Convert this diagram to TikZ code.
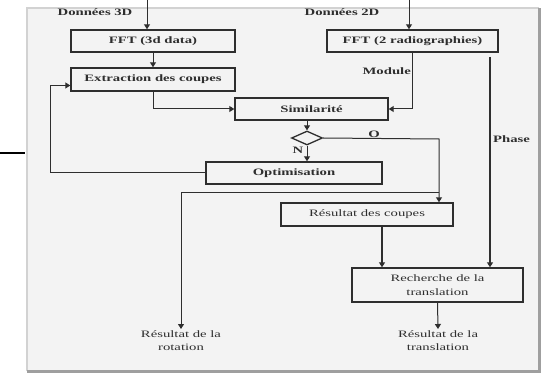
\documentclass[tikz,border=0pt]{standalone}
\usepackage{fontspec}
\setmainfont{Liberation Serif}[FakeStretch=1.5]
\usetikzlibrary{arrows.meta,shapes.geometric}
\definecolor{panel}{HTML}{F3F3F3}
\definecolor{ink}{HTML}{2E2E2E}
\tikzset{
  box/.style={draw=ink, line width=1.4pt, fill=panel, inner sep=1pt, align=center, text=ink, font=\fontsize{9.8}{14}\selectfont},
  bbox/.style={box, font=\fontsize{9.8}{14}\selectfont\bfseries},
  lbl/.style={text=ink, font=\fontsize{9.8}{14}\selectfont\bfseries, inner sep=0pt},
  rlbl/.style={text=ink, font=\fontsize{9.8}{13.5}\selectfont, inner sep=1pt, align=center},
  conn/.style={draw=ink, line width=1pt},
  arr/.style={conn, -{Triangle[length=5pt,width=6pt]}},
  tarr/.style={arr, line width=1.4pt}
}
\begin{document}
\begin{tikzpicture}[x=1pt,y=-1pt]
\useasboundingbox (0,0) rectangle (548,379);
% panel
\fill[white] (0,0) rectangle (548,379);
\fill[panel] (27,8) rectangle (539,371);
\draw[gray!35, line width=2pt] (27,371) -- (27,8) -- (539,8);
\draw[gray!75, line width=3pt] (27,371) -- (539,371) -- (539,8);
\draw[black, line width=1.4pt] (0,153) -- (25,153);
% boxes
\node[bbox, minimum width=164pt, minimum height=22pt] (fft3) at (153,41) {FFT (3d data)};
\node[bbox, minimum width=164pt, minimum height=23pt] (ext) at (153,79.5) {Extraction des coupes};
\node[bbox, minimum width=153pt, minimum height=22pt] (sim) at (311.5,109) {Similarité};
\node[bbox, minimum width=171pt, minimum height=22pt] (fft2) at (412.5,41) {FFT (2 radiographies)};
\node[draw=ink, line width=1.3pt, fill=panel, diamond, aspect=2.2, minimum width=31pt, minimum height=14pt, inner sep=0pt] (dia) at (307,138) {};
\node[bbox, minimum width=176pt, minimum height=22pt] (opt) at (294,173) {Optimisation};
\node[box, minimum width=172pt, minimum height=23pt] (rc) at (367,214.5) {Résultat des coupes};
\node[box, minimum width=171pt, minimum height=34pt] (rech) at (437.5,285) {Recherche de la\\translation};
% free texts
\node[lbl] (d3) at (95,12) {Données 3D};
\node[lbl] (d2) at (342,12) {Données 2D};
\node[rlbl, anchor=north] (rot) at (181,329) {Résultat de la\\rotation};
\node[rlbl, anchor=north] (tra) at (438,329) {Résultat de la\\translation};
% coordinates
\coordinate (in3) at (147,0);
\coordinate (in2) at (409,0);
\coordinate (ph) at (490,57);
\coordinate (fb) at (50,85.5);
\coordinate (oc) at (439,139);
\coordinate (jn) at (439,193);
% connectors
\draw[arr] (in3) -- (in3 |- fft3.north);
\draw[arr] (in2) -- (in2 |- fft2.north);
\draw[arr] (fft3.south) -- (ext.north);
\draw[arr] (ext.south) |- (sim.west);
\draw[arr] (fft2.south) |- (sim.east);
\node[lbl, anchor=east] (mod) at (411,71) {Module};
\draw[tarr] (ph) -- (ph |- rech.north);
\node[lbl, anchor=west] (pha) at (493,139) {Phase};
\draw[arr] (dia.north |- sim.south) -- (dia.north);
\draw[arr] (dia.south) -- (dia.south |- opt.north);
\node[lbl] (nn) at (298,150) {N};
\draw[arr] (dia.east) -- (oc) -- (oc |- rc.north);
\node[lbl] (oo) at (374,134) {O};
\draw[arr] (opt.west) -- (opt.west -| fb) -- (fb) -- (fb -| ext.west);
\draw[arr] (jn) -| (rot.north);
\draw[tarr] (rc.south -| 382,0) -- (rech.north -| 382,0);
\draw[arr] (rech.south) -- (tra.north);
\end{tikzpicture}
\end{document}
